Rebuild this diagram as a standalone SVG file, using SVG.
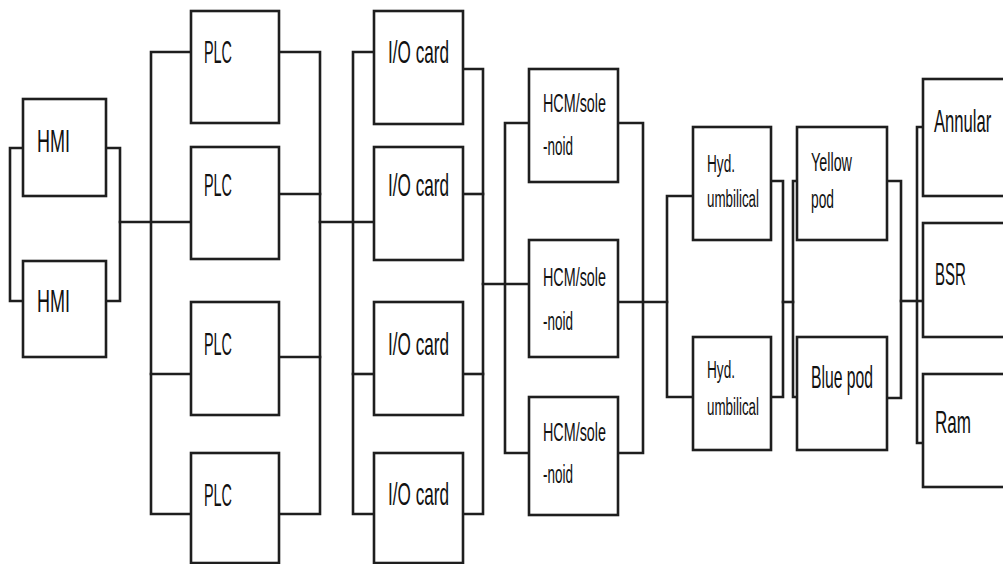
<svg xmlns="http://www.w3.org/2000/svg" width="1003" height="564" viewBox="0 0 1003 564">
  <style>
    .box { fill: #ffffff; stroke: #1e1e1e; stroke-width: 2.6; }
    .wire { fill: none; stroke: #1e1e1e; stroke-width: 2.6; stroke-linejoin: miter; stroke-linecap: square; }
    .lbl { font-family: "Liberation Sans", Arial, sans-serif; fill: #111111; }
    .big { font-size: 32px; }
    .mid { font-size: 26px; }
    .sm { font-size: 23px; }
  </style>
  <rect width="1003" height="564" fill="#ffffff"/>

  <!-- connectors -->
  <g id="connectors" class="wire">
    <!-- HMI pair -->
    <path d="M23 148 H10 V301 H23"/>
    <path d="M106 148 H120 V301 H106"/>
    <path d="M120 222 H191"/>
    <!-- PLC bank -->
    <path d="M191 52 H151 V514 H191"/>
    <path d="M151 374 H191"/>
    <path d="M279 52 H320 V514 H279"/>
    <path d="M279 194 H320"/>
    <path d="M279 357 H320"/>
    <path d="M320 222 H374"/>
    <!-- I/O card bank -->
    <path d="M374 52 H353 V514 H374"/>
    <path d="M353 374 H374"/>
    <path d="M463 69 H483 V514 H463"/>
    <path d="M463 194 H483"/>
    <path d="M463 374 H483"/>
    <path d="M483 284 H529"/>
    <!-- HCM/solenoid bank -->
    <path d="M529 123 H505 V453 H529"/>
    <path d="M618 123 H643 V453 H618"/>
    <path d="M618 302 H667"/>
    <!-- hydraulic umbilicals -->
    <path d="M693 196 H667 V397 H693"/>
    <path d="M771 181 H783 V397 H771"/>
    <path d="M783 302 H793"/>
    <!-- pods -->
    <path d="M797 181 H793 V397 H797"/>
    <path d="M887 181 H901 V398 H887"/>
    <path d="M901 301 H923"/>
    <!-- BOP functions -->
    <path d="M923 127 H917 V443 H923"/>
  </g>

  <g id="hmi-1"><rect class="box" x="23" y="99" width="83" height="97"/><text class="lbl big" x="37" y="152" textLength="33" lengthAdjust="spacingAndGlyphs">HMI</text></g>
  <g id="hmi-2"><rect class="box" x="23" y="261" width="83" height="96"/><text class="lbl big" x="37" y="312" textLength="33" lengthAdjust="spacingAndGlyphs">HMI</text></g>

  <g id="plc-1"><rect class="box" x="191" y="11" width="88" height="112"/><text class="lbl big" x="204" y="63" textLength="28" lengthAdjust="spacingAndGlyphs">PLC</text></g>
  <g id="plc-2"><rect class="box" x="191" y="147" width="88" height="112"/><text class="lbl big" x="204" y="196" textLength="28" lengthAdjust="spacingAndGlyphs">PLC</text></g>
  <g id="plc-3"><rect class="box" x="191" y="302" width="88" height="113"/><text class="lbl big" x="204" y="355" textLength="28" lengthAdjust="spacingAndGlyphs">PLC</text></g>
  <g id="plc-4"><rect class="box" x="191" y="453" width="88" height="110"/><text class="lbl big" x="204" y="506" textLength="28" lengthAdjust="spacingAndGlyphs">PLC</text></g>

  <g id="io-1"><rect class="box" x="374" y="11" width="89" height="113"/><text class="lbl big" x="388" y="63" textLength="61" lengthAdjust="spacingAndGlyphs">I/O card</text></g>
  <g id="io-2"><rect class="box" x="374" y="147" width="89" height="113"/><text class="lbl big" x="388" y="196" textLength="61" lengthAdjust="spacingAndGlyphs">I/O card</text></g>
  <g id="io-3"><rect class="box" x="374" y="302" width="89" height="113"/><text class="lbl big" x="388" y="355" textLength="61" lengthAdjust="spacingAndGlyphs">I/O card</text></g>
  <g id="io-4"><rect class="box" x="374" y="453" width="89" height="110"/><text class="lbl big" x="388" y="505" textLength="61" lengthAdjust="spacingAndGlyphs">I/O card</text></g>

  <g id="hcm-1"><rect class="box" x="529" y="69" width="89" height="113"/>
    <text class="lbl mid" x="543" y="112" textLength="63" lengthAdjust="spacingAndGlyphs">HCM/sole</text>
    <text class="lbl mid" x="543" y="155" textLength="30" lengthAdjust="spacingAndGlyphs">-noid</text></g>
  <g id="hcm-2"><rect class="box" x="529" y="240" width="89" height="117"/>
    <text class="lbl mid" x="543" y="286" textLength="63" lengthAdjust="spacingAndGlyphs">HCM/sole</text>
    <text class="lbl mid" x="543" y="330" textLength="30" lengthAdjust="spacingAndGlyphs">-noid</text></g>
  <g id="hcm-3"><rect class="box" x="529" y="397" width="89" height="118"/>
    <text class="lbl mid" x="543" y="441" textLength="63" lengthAdjust="spacingAndGlyphs">HCM/sole</text>
    <text class="lbl mid" x="543" y="483" textLength="30" lengthAdjust="spacingAndGlyphs">-noid</text></g>

  <g id="hyd-1"><rect class="box" x="693" y="127" width="78" height="113"/>
    <text class="lbl sm" x="707" y="172" textLength="28" lengthAdjust="spacingAndGlyphs">Hyd.</text>
    <text class="lbl sm" x="707" y="207" textLength="52" lengthAdjust="spacingAndGlyphs">umbilical</text></g>
  <g id="hyd-2"><rect class="box" x="693" y="337" width="78" height="113"/>
    <text class="lbl sm" x="707" y="378" textLength="28" lengthAdjust="spacingAndGlyphs">Hyd.</text>
    <text class="lbl sm" x="707" y="415" textLength="52" lengthAdjust="spacingAndGlyphs">umbilical</text></g>

  <g id="yellow-pod"><rect class="box" x="797" y="127" width="90" height="113"/>
    <text class="lbl mid" x="811" y="171" textLength="41" lengthAdjust="spacingAndGlyphs">Yellow</text>
    <text class="lbl mid" x="811" y="208" textLength="23" lengthAdjust="spacingAndGlyphs">pod</text></g>
  <g id="blue-pod"><rect class="box" x="797" y="337" width="90" height="113"/>
    <text class="lbl big" x="811" y="388" textLength="62" lengthAdjust="spacingAndGlyphs">Blue pod</text></g>

  <g id="annular"><rect class="box" x="923" y="79" width="90" height="117"/><text class="lbl big" transform="translate(934 132) scale(0.52 1)">Annular</text></g>
  <g id="bsr"><rect class="box" x="923" y="223" width="90" height="114"/><text class="lbl big" x="935" y="285" textLength="31" lengthAdjust="spacingAndGlyphs">BSR</text></g>
  <g id="ram"><rect class="box" x="923" y="374" width="90" height="113"/><text class="lbl big" x="935" y="433" textLength="36" lengthAdjust="spacingAndGlyphs">Ram</text></g>
</svg>
